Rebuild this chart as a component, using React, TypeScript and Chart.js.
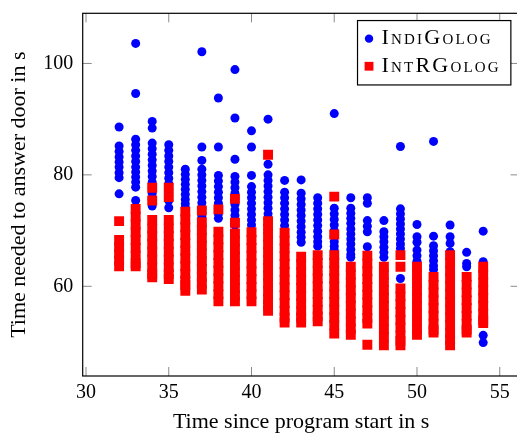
import { useEffect, useRef } from 'react';
import { Chart, registerables } from 'chart.js';

Chart.register(...registerables);

// ---- data ----
const xValues = [32, 33, 34, 35, 36, 37, 38, 39, 40, 41, 42, 43, 44, 45, 46, 47, 48, 49, 50, 51, 52, 53, 54];

const indiGologTimes: number[][] = [
  [88.6, 85.2, 84.2, 83.2, 82.3, 81.4, 80.4, 79.5, 76.6],
  [103.6, 94.6, 86.4, 85.4, 84.4, 83.4, 82.4, 81.4, 80.5, 79.6, 78.7, 77.8, 75.4],
  [89.6, 88.4, 85.7, 84.7, 83.7, 82.7, 81.7, 80.7, 79.7, 78.7, 77.7, 76.7, 75.7, 74.4],
  [85.4, 84.4, 83.4, 82.4, 81.4, 80.4, 79.4, 78.4, 77.4, 76.4, 75.4, 74.1],
  [81.0, 80.1, 79.2, 78.3, 77.4, 76.5, 75.6, 74.8, 74.1],
  [102.1, 85.0, 82.6, 81.0, 80.0, 79.0, 78.0, 77.0, 76.0, 75.0, 74.0, 73.0, 72.5],
  [93.8, 85.0, 79.9, 78.9, 77.9, 76.9, 75.9, 74.9, 73.9, 73.0, 72.2],
  [98.9, 90.2, 82.8, 79.7, 78.7, 77.7, 76.7, 75.7, 74.7, 73.7, 72.7, 71.8, 71.0],
  [87.9, 85.0, 79.9, 77.9, 76.9, 75.9, 74.9, 73.9, 72.9, 71.9, 71.0],
  [90.0, 81.9, 80.0, 79.0, 78.0, 77.0, 76.0, 75.0, 74.0, 73.0, 72.0, 71.0, 70.2],
  [79.0, 76.9, 75.9, 74.9, 73.9, 72.9, 71.9, 70.9, 70.0],
  [79.1, 76.7, 75.7, 74.7, 73.7, 72.7, 71.7, 70.7, 69.7, 68.8, 67.9],
  [75.9, 74.9, 73.9, 72.9, 71.9, 70.9, 69.9, 68.9, 68.0, 67.2],
  [91.0, 74.0, 73.0, 72.0, 71.0, 70.0, 69.0, 68.0, 67.2, 66.5],
  [75.9, 74.0, 73.1, 72.2, 71.3, 70.3, 69.4, 68.5, 67.6, 66.6, 65.7, 65.2],
  [75.9, 74.9, 71.8, 70.8, 69.8, 67.1],
  [71.8, 69.8, 68.9, 68.0, 67.0, 66.1, 65.2],
  [85.1, 73.9, 73.0, 72.1, 71.2, 70.3, 69.4, 68.5, 67.6, 66.8, 61.4],
  [71.1, 68.9, 67.9, 66.5, 65.5, 64.5],
  [86.0, 69.0, 67.3, 66.4, 65.5, 64.6, 63.7, 63.0],
  [71.0, 68.9, 67.7, 66.2, 65.5],
  [66.1, 64.1, 63.5],
  [69.9, 64.4, 63.5, 62.5, 51.2, 49.9],
];

const intRGologTimes: number[][] = [
  [71.7, 68.3, 67.0, 65.8, 64.6, 63.6],
  [73.9, 72.5, 71.1, 69.7, 68.3, 66.9, 65.5, 64.1, 63.6],
  [77.7, 75.4, 71.9, 70.4, 69.0, 67.6, 66.2, 64.8, 63.4, 62.2, 61.6],
  [77.7, 76.0, 71.9, 70.4, 69.0, 67.6, 66.2, 64.8, 63.4, 62.2, 61.3],
  [73.4, 72.0, 70.6, 69.2, 67.8, 66.4, 65.0, 63.6, 62.2, 61.0, 60.2, 59.2],
  [73.6, 71.5, 70.1, 68.7, 67.3, 65.9, 64.5, 63.1, 61.7, 60.5, 59.4],
  [73.8, 69.8, 68.4, 67.0, 65.6, 64.2, 62.8, 61.4, 60.0, 58.6, 57.3],
  [75.7, 71.4, 69.5, 68.1, 66.7, 65.3, 63.9, 62.5, 61.1, 59.7, 58.4, 57.3],
  [69.7, 68.3, 66.9, 65.5, 64.1, 62.7, 61.3, 59.9, 58.6, 57.3],
  [83.6, 71.7, 70.3, 68.9, 67.5, 66.1, 64.7, 63.3, 61.9, 60.5, 59.1, 57.7, 56.6, 55.6],
  [69.6, 68.2, 66.8, 65.4, 64.0, 62.6, 61.2, 59.8, 58.4, 57.0, 55.6, 54.4, 53.5],
  [65.3, 63.9, 62.5, 61.1, 59.7, 58.3, 56.9, 55.5, 54.4, 53.5],
  [65.6, 64.2, 62.8, 61.4, 60.0, 58.6, 57.2, 55.8, 54.6, 53.7],
  [76.1, 69.3, 65.6, 64.2, 62.8, 61.4, 60.0, 58.6, 57.2, 55.8, 54.4, 53.0, 51.5],
  [63.5, 62.1, 60.7, 59.3, 57.9, 56.5, 55.1, 53.7, 52.4, 51.3],
  [65.5, 64.1, 62.7, 61.3, 59.9, 58.5, 57.1, 55.7, 54.3, 53.3, 49.5],
  [63.5, 62.1, 60.7, 59.3, 57.9, 56.5, 55.1, 53.7, 52.3, 50.9, 49.4],
  [65.6, 63.5, 59.6, 58.2, 56.8, 55.4, 54.0, 52.6, 51.2, 50.2, 49.4],
  [63.5, 62.1, 60.7, 59.3, 57.9, 56.5, 55.1, 53.7, 52.3, 51.3],
  [61.7, 60.3, 58.9, 57.5, 56.1, 54.7, 53.3, 52.2, 51.7],
  [65.6, 64.2, 62.8, 61.4, 60.0, 58.6, 57.2, 55.8, 54.4, 53.0, 51.6, 50.4, 49.4],
  [61.7, 60.3, 58.9, 57.5, 56.1, 54.7, 53.3, 52.2, 51.7],
  [63.5, 62.1, 60.7, 59.3, 57.9, 56.5, 55.1, 53.9, 53.4],
];

const seriesLabels = ['IndiGolog', 'IntRGolog'];
const xTickValues = [30, 35, 40, 45, 50, 55];
const yTickValues = [60, 80, 100];
const xAxisTitle = 'Time since program start in s';
const yAxisTitle = 'Time needed to answer door in s';

// ---- styling ----
const BLUE = '#0000ff';
const RED = '#ff0000';
const SERIF = '"Liberation Serif", "Times New Roman", serif';
const CANVAS_W = 528;
const CANVAS_H = 433;
const TICK_LEN = 9;

function toPoints(cols: number[][]) {
  return xValues.flatMap((x, i) => cols[i].map((y) => ({ x, y })));
}

const pgfFrame = {
  id: 'pgfFrame',
  afterDraw(chart: any) {
    const { ctx, chartArea: a } = chart;
    const xs = chart.scales.x;
    const ys = chart.scales.y;
    ctx.save();
    // inward ticks on all four sides
    ctx.lineWidth = 1;
    ctx.strokeStyle = '#8a8a8a';
    ctx.beginPath();
    for (const t of xs.ticks) {
      const p = xs.getPixelForValue(t.value);
      ctx.moveTo(p, a.bottom);
      ctx.lineTo(p, a.bottom - TICK_LEN);
      ctx.moveTo(p, a.top);
      ctx.lineTo(p, a.top + TICK_LEN);
    }
    for (const t of ys.ticks) {
      const p = ys.getPixelForValue(t.value);
      ctx.moveTo(a.left, p);
      ctx.lineTo(a.left + TICK_LEN, p);
      ctx.moveTo(a.right, p);
      ctx.lineTo(a.right - TICK_LEN, p);
    }
    ctx.stroke();
    // frame
    ctx.strokeStyle = '#000';
    ctx.lineWidth = 1.2;
    ctx.strokeRect(a.left, a.top, a.right - a.left, a.bottom - a.top);

    // legend (north east, like pgfplots)
    ctx.font = `small-caps 22px ${SERIF}`;
    if ('letterSpacing' in ctx) (ctx as any).letterSpacing = '2.2px';
    const labels = chart.data.datasets.map((d: any) => d.label);
    const textW = Math.max(...labels.map((l: string) => ctx.measureText(l).width));
    const textStart = 24;
    const boxW = textStart + textW + 10;
    const boxH = 64.4;
    const right = a.left + 0.98 * (a.right - a.left);
    const top = a.bottom - 0.98 * (a.bottom - a.top);
    const left = right - boxW;
    ctx.fillStyle = '#fff';
    ctx.fillRect(left, top, boxW, boxH);
    ctx.lineWidth = 1.2;
    ctx.strokeStyle = '#000';
    ctx.strokeRect(left, top, boxW, boxH);
    chart.data.datasets.forEach((d: any, i: number) => {
      const my = top + 18.1 + i * 27.6;
      const mx = left + 11.5;
      ctx.fillStyle = d.backgroundColor;
      if (d.pointStyle === 'rect') {
        ctx.fillRect(mx - 4.4, my - 4.4, 8.8, 8.8);
      } else {
        ctx.beginPath();
        ctx.arc(mx, my, 4.2, 0, Math.PI * 2);
        ctx.fill();
      }
      ctx.fillStyle = '#000';
      ctx.textBaseline = 'middle';
      ctx.textAlign = 'left';
      ctx.fillText(d.label, left + textStart, my);
    });
    ctx.restore();
  },
};

export default function App() {
  const ref = useRef<HTMLCanvasElement | null>(null);

  useEffect(() => {
    if (!ref.current) return;
    const chart = new Chart(ref.current, {
      type: 'scatter',
      data: {
        datasets: [
          {
            label: seriesLabels[0],
            data: toPoints(indiGologTimes),
            backgroundColor: BLUE,
            borderColor: BLUE,
            pointStyle: 'circle',
            pointRadius: 4.5,
            pointBorderWidth: 0,
            order: 1,
          },
          {
            label: seriesLabels[1],
            data: toPoints(intRGologTimes),
            backgroundColor: RED,
            borderColor: RED,
            pointStyle: 'rect',
            pointRadius: 7,
            pointBorderWidth: 0,
            order: 0,
          },
        ],
      },
      options: {
        animation: false,
        responsive: false,
        layout: { padding: { left: 0, top: 13.3, right: 8.4, bottom: 0 } },
        plugins: {
          legend: { display: false },
          tooltip: { enabled: false },
        },
        scales: {
          x: {
            type: 'linear',
            min: 29.8,
            max: 56.2,
            afterBuildTicks: (s: any) => {
              s.ticks = xTickValues.map((v) => ({ value: v }));
            },
            afterFit: (s: any) => {
              s.height = 57;
              s.paddingLeft = 0;
              s.paddingRight = 0;
            },
            grid: { display: false, drawTicks: false },
            border: { display: false },
            ticks: {
              color: '#000',
              font: { family: SERIF, size: 20 },
              padding: 4.5,
              maxRotation: 0,
              autoSkip: false,
              callback: (v: any) => String(v),
            },
            title: {
              display: true,
              text: xAxisTitle,
              color: '#000',
              font: { family: SERIF, size: 22, lineHeight: 1 },
              padding: { top: 0, bottom: 0 },
            },
          },
          y: {
            type: 'linear',
            min: 43.9,
            max: 109,
            afterBuildTicks: (s: any) => {
              s.ticks = yTickValues.map((v) => ({ value: v }));
            },
            afterFit: (s: any) => {
              s.width = 82.7;
              s.paddingTop = 0;
              s.paddingBottom = 0;
            },
            grid: { display: false, drawTicks: false },
            border: { display: false },
            ticks: {
              color: '#000',
              font: { family: SERIF, size: 20 },
              padding: 9.4,
              autoSkip: false,
              callback: (v: any) => String(v),
            },
            title: {
              display: true,
              text: yAxisTitle,
              color: '#000',
              font: { family: SERIF, size: 22, lineHeight: 1 },
              padding: { top: 8.3, bottom: 0 },
            },
          },
        },
      },
      plugins: [pgfFrame],
    });
    return () => chart.destroy();
  }, []);

  return (
    <div
      style={{
        position: 'fixed',
        left: 0,
        top: 0,
        width: 517,
        height: 433,
        overflow: 'hidden',
        background: '#fff',
      }}
    >
      <canvas ref={ref} width={CANVAS_W} height={CANVAS_H} style={{ display: 'block', width: CANVAS_W, height: CANVAS_H }} />
    </div>
  );
}
